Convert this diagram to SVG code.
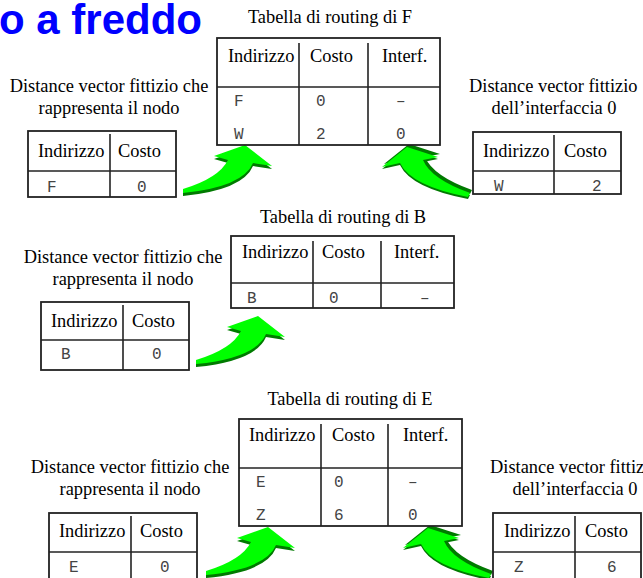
<svg xmlns="http://www.w3.org/2000/svg" xmlns:xlink="http://www.w3.org/1999/xlink" width="643" height="578" viewBox="0 0 643 578">
<style>
.title{font-family:"Liberation Sans",Arial,sans-serif;font-weight:bold;font-size:42px;fill:#0000ff}
.t{font-family:"Liberation Serif","Times New Roman",serif;font-size:18.4px;fill:#000}
.c{text-anchor:middle}
.m{font-family:"Liberation Mono","Courier New",monospace;font-size:16px;fill:#444}
.box{fill:#fff;stroke:#222;stroke-width:1.8}
.ln{stroke:#222;stroke-width:1.6;fill:none}
.dk{fill:#007a00}
.br{fill:#00ff00}
</style>
<defs>
<g id="arrowUR">
<path class="dk" transform="translate(0,3)" d="M245,145 L214,156 L228,160 Q219,178 183,189 L183,193 Q243,187 253,163 L272,166 Z"/>
<path class="br" d="M245,145 L214,156 L228,160 Q219,178 183,189 L183,193 Q243,187 253,163 L272,166 Z"/>
</g>
<g id="arrowUL">
<path class="dk" transform="translate(2,-3)" d="M407,147 L382,167 L400,163 Q411,186 468,197 L470,193 Q431,179 423,160 L438,157 Z"/>
<path class="dk" transform="translate(0,2)" d="M407,147 L382,167 L400,163 Q411,186 468,197 L470,193 Q431,179 423,160 L438,157 Z"/>
<path class="br" d="M407,147 L382,167 L400,163 Q411,186 468,197 L470,193 Q431,179 423,160 L438,157 Z"/>
</g>
</defs>
<rect x="0" y="0" width="643" height="578" fill="#fff"/>
<text class="title" x="-1" y="34">o a freddo</text>

<g id="connectors">
<use xlink:href="#arrowUR"/>
<use xlink:href="#arrowUL"/>
<use xlink:href="#arrowUR" transform="translate(13,171)"/>
<use xlink:href="#arrowUR" transform="translate(23,382)"/>
<use xlink:href="#arrowUL" transform="translate(21,381)"/>
</g>

<g id="rtF">
<text class="t c" x="330" y="23">Tabella di routing di F</text>
<rect class="box" x="217" y="38" width="223" height="107"/>
<line class="ln" x1="217" y1="87" x2="440" y2="87"/>
<line class="ln" x1="299" y1="43" x2="299" y2="145"/>
<line class="ln" x1="368" y1="43" x2="368" y2="145"/>
<text class="t" x="228" y="62">Indirizzo</text>
<text class="t" x="310" y="62">Costo</text>
<text class="t" x="382" y="62">Interf.</text>
<text class="m" x="234" y="106">F</text>
<text class="m" x="316" y="106">0</text>
<text class="m" x="396" y="106">–</text>
<text class="m" x="234" y="139">W</text>
<text class="m" x="316" y="139">2</text>
<text class="m" x="396" y="139">0</text>
</g>

<g id="dvF">
<text class="t c" x="109" y="92">Distance vector fittizio che</text>
<text class="t c" x="109" y="114">rappresenta il nodo</text>
<rect class="box" x="28" y="131" width="148" height="66"/>
<line class="ln" x1="28" y1="171" x2="176" y2="171"/>
<line class="ln" x1="110" y1="134" x2="110" y2="197"/>
<text class="t" x="38" y="157">Indirizzo</text>
<text class="t" x="118" y="157">Costo</text>
<text class="m" x="47" y="192">F</text>
<text class="m" x="137" y="192">0</text>
</g>

<g id="dvW">
<text class="t" x="469" y="92">Distance vector fittizio</text>
<text class="t c" x="554" y="114">dell’interfaccia 0</text>
<rect class="box" x="473" y="132" width="148" height="62"/>
<line class="ln" x1="473" y1="171" x2="621" y2="171"/>
<line class="ln" x1="554" y1="135" x2="554" y2="194"/>
<text class="t" x="483" y="157">Indirizzo</text>
<text class="t" x="564" y="157">Costo</text>
<text class="m" x="494" y="191">W</text>
<text class="m" x="592" y="191">2</text>
</g>

<g id="rtB">
<text class="t c" x="343" y="223">Tabella di routing di B</text>
<rect class="box" x="231" y="236" width="223" height="72"/>
<line class="ln" x1="231" y1="283" x2="454" y2="283"/>
<line class="ln" x1="313" y1="241" x2="313" y2="308"/>
<line class="ln" x1="381" y1="241" x2="381" y2="308"/>
<text class="t" x="242" y="258">Indirizzo</text>
<text class="t" x="322" y="258">Costo</text>
<text class="t" x="394" y="258">Interf.</text>
<text class="m" x="247" y="303">B</text>
<text class="m" x="329" y="303">0</text>
<text class="m" x="420" y="303">–</text>
</g>

<g id="dvB">
<text class="t c" x="123" y="263">Distance vector fittizio che</text>
<text class="t c" x="123" y="285">rappresenta il nodo</text>
<rect class="box" x="41" y="302" width="148" height="68"/>
<line class="ln" x1="41" y1="340" x2="189" y2="340"/>
<line class="ln" x1="123" y1="305" x2="123" y2="370"/>
<text class="t" x="51" y="327">Indirizzo</text>
<text class="t" x="132" y="327">Costo</text>
<text class="m" x="61" y="359">B</text>
<text class="m" x="152" y="359">0</text>
</g>

<g id="rtE">
<text class="t c" x="350" y="405">Tabella di routing di E</text>
<rect class="box" x="239" y="419" width="223" height="107"/>
<line class="ln" x1="239" y1="468" x2="462" y2="468"/>
<line class="ln" x1="321" y1="424" x2="321" y2="526"/>
<line class="ln" x1="388" y1="424" x2="388" y2="526"/>
<text class="t" x="249" y="441">Indirizzo</text>
<text class="t" x="332" y="441">Costo</text>
<text class="t" x="403" y="441">Interf.</text>
<text class="m" x="256" y="487">E</text>
<text class="m" x="334" y="487">0</text>
<text class="m" x="408" y="487">–</text>
<text class="m" x="256" y="520">Z</text>
<text class="m" x="334" y="520">6</text>
<text class="m" x="408" y="520">0</text>
</g>

<g id="dvE">
<text class="t c" x="130" y="473">Distance vector fittizio che</text>
<text class="t c" x="130" y="495">rappresenta il nodo</text>
<rect class="box" x="49" y="513" width="148" height="70"/>
<line class="ln" x1="49" y1="552" x2="197" y2="552"/>
<line class="ln" x1="131" y1="516" x2="131" y2="583"/>
<text class="t" x="59" y="537">Indirizzo</text>
<text class="t" x="140" y="537">Costo</text>
<text class="m" x="69" y="572">E</text>
<text class="m" x="160" y="572">0</text>
</g>

<g id="dvZ">
<text class="t" x="490" y="473">Distance vector fittizio</text>
<text class="t c" x="575" y="495">dell’interfaccia 0</text>
<rect class="box" x="493" y="513" width="148" height="70"/>
<line class="ln" x1="493" y1="552" x2="641" y2="552"/>
<line class="ln" x1="575" y1="516" x2="575" y2="583"/>
<text class="t" x="504" y="537">Indirizzo</text>
<text class="t" x="585" y="537">Costo</text>
<text class="m" x="514" y="572">Z</text>
<text class="m" x="607" y="572">6</text>
</g>
</svg>
